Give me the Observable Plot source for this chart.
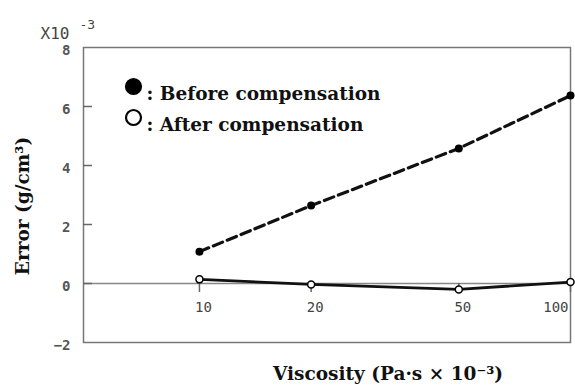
<!DOCTYPE html>
<html><head><meta charset="utf-8">
<script src="https://cdn.jsdelivr.net/npm/d3@7"></script>
<script src="https://cdn.jsdelivr.net/npm/@observablehq/plot@0.6"></script>
<style>body{margin:0;background:#fff}</style>
</head><body><div id="chart"></div>
<script>
const viscosity = [10, 20, 50, 100];
const beforeErr = [1.08, 2.64, 4.58, 6.37];
const afterErr = [0.14, -0.03, -0.2, 0.05];
const xTicks = [10, 20, 50, 100];
const yTicks = [-2, 0, 2, 4, 6, 8];
const seriesNames = ["Before compensation", "After compensation"];
const xTitle = "Viscosity (Pa·s × 10⁻³)";
const yTitle = "Error (g/cm³)";

const before = viscosity.map((v, i) => ({v, e: beforeErr[i]}));
const after = viscosity.map((v, i) => ({v, e: afterErr[i]}));

const serif = "'DejaVu Serif', serif";
const mono = "'DejaVu Sans Mono', monospace";
const gray = "#444";

const legendMarks = seriesNames.flatMap((name, i) => [
  Plot.dot([name], {frameAnchor: "top-left", dx: 50, dy: 39 + 31 * i, r: 7.5,
    fill: i === 0 ? "black" : "white", stroke: "black", strokeWidth: 2.2}),
  Plot.text([": " + name], {frameAnchor: "top-left", dx: 63, dy: 39 + 31 * i, text: d => d,
    textAnchor: "start", fontFamily: serif, fontWeight: "bold", fontSize: 18.5, fill: "#111"})
]);

const chart = Plot.plot({
  width: 575, height: 387,
  marginLeft: 83, marginRight: 5, marginTop: 47, marginBottom: 45,
  x: {type: "log", domain: [4.87, 100], axis: null},
  y: {domain: [-2, 8], axis: null},
  style: {background: "white", overflow: "visible"},
  marks: [
    Plot.frame({stroke: "#777", strokeWidth: 1.5}),
    Plot.ruleY([0], {stroke: "#888", strokeWidth: 1.5}),
    Plot.tickY(yTicks.filter(d => d > -2 && d < 8), {y: d => d, stroke: "#666", strokeWidth: 1.5, insetRight: 487 - 9}),
    Plot.text(yTicks, {frameAnchor: "left", y: d => d, text: d => d === -2 ? "−2" : String(d), dx: -13, dy: 3,
      textAnchor: "end", fontFamily: mono, fontSize: 14, fontWeight: "bold", fill: "#555"}),
    Plot.ruleX(xTicks, {x: d => d, y1: () => 0, y2: () => 0, insetBottom: -9, stroke: "#666", strokeWidth: 1.5}),
    Plot.text(xTicks.filter(d => d < 100), {x: d => d, y: () => 0, text: d => String(d), dx: 4, dy: 24,
      fontFamily: mono, fontSize: 14, fill: gray}),
    Plot.text(xTicks.filter(d => d >= 100), {x: d => d, y: () => 0, text: d => String(d), dx: -2, dy: 24,
      textAnchor: "end", fontFamily: mono, fontSize: 14, fill: gray}),
    Plot.line(after, {x: "v", y: "e", stroke: "#111", strokeWidth: 2.8}),
    Plot.line(before, {x: "v", y: "e", stroke: "#111", strokeWidth: 3.2, strokeDasharray: "10,5"}),
    Plot.dot(before, {x: "v", y: "e", r: 4, fill: "black"}),
    Plot.dot(after, {x: "v", y: "e", r: 3.5, fill: "white", stroke: "black", strokeWidth: 1.5}),
    ...legendMarks,
    Plot.text([xTitle], {frameAnchor: "bottom", text: d => d, dx: 61, dy: 37, textAnchor: "middle",
      fontFamily: serif, fontWeight: "bold", fontSize: 18.5, fill: "#111"}),
    Plot.text([yTitle], {frameAnchor: "left", text: d => d, dx: -60, dy: 11, rotate: -90, textAnchor: "middle",
      fontFamily: serif, fontWeight: "bold", fontSize: 18.5, fill: "#111"}),
    Plot.text(["X10"], {frameAnchor: "top-left", text: d => d, dx: -43, dy: -20, textAnchor: "start",
      fontFamily: mono, fontSize: 16, fill: gray}),
    Plot.text(["-3"], {frameAnchor: "top-left", text: d => d, dx: -4, dy: -28, textAnchor: "start",
      fontFamily: mono, fontSize: 13, fill: gray})
  ]
});
document.getElementById("chart").append(chart);
</script>
</body></html>
